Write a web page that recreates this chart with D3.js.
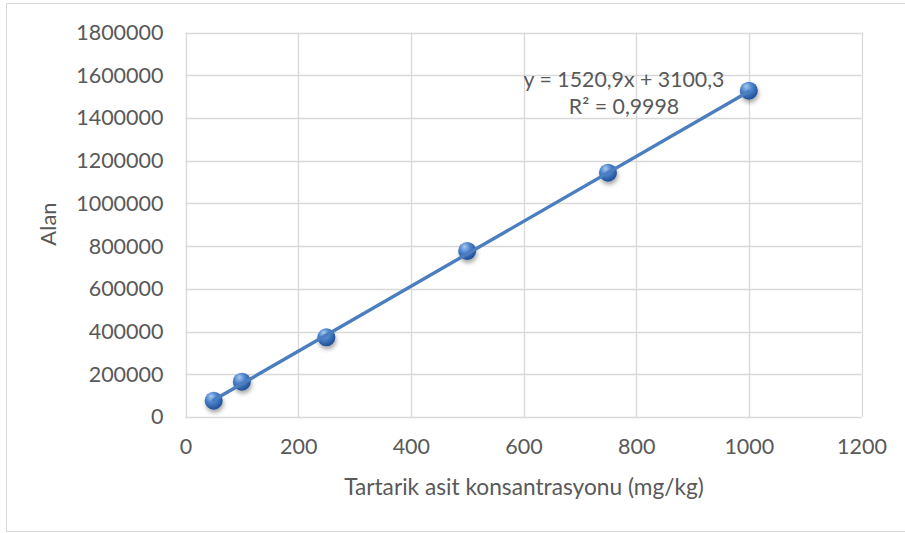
<!DOCTYPE html>
<html><head><meta charset="utf-8">
<script src="https://cdn.jsdelivr.net/npm/d3@7"></script>
<style>html,body{margin:0;padding:0;background:#fff;}svg{display:block;}</style>
</head><body>
<svg id="chart" width="905" height="533"></svg>
<script>
const concentrations = [50, 100, 250, 500, 750, 1000];
const areas = [76300, 165300, 373100, 777200, 1143700, 1527600];
const xTicks = [0, 200, 400, 600, 800, 1000, 1200];
const yTicks = [0, 200000, 400000, 600000, 800000, 1000000, 1200000, 1400000, 1600000, 1800000];
const trendSlope = 1520.9, trendIntercept = 3100.3;
const equationLines = ["y = 1520,9x + 3100,3", "R² = 0,9998"];
const xTitle = "Tartarik asit konsantrasyonu (mg/kg)";
const yTitle = "Alan";

const svg = d3.select("#chart");
const font = "Lato, 'Open Sans', sans-serif";
const textColor = "#595959";

svg.append("rect").attr("x",6.5).attr("y",3.5).attr("width",910).attr("height",528)
  .attr("fill","#fff").attr("stroke","#d9d9d9").attr("stroke-width",1);

const x = d3.scaleLinear().domain([0,1200]).range([185.5, 861.5]);
const y = d3.scaleLinear().domain([0,1800000]).range([417, 32.5]);

const defs = svg.append("defs");
const grad = defs.append("radialGradient").attr("id","ball").attr("cx","40%").attr("cy","35%").attr("r","65%").attr("fx","35%").attr("fy","25%");
grad.append("stop").attr("offset","0%").attr("stop-color","#a9c8ee");
grad.append("stop").attr("offset","45%").attr("stop-color","#4f86cf");
grad.append("stop").attr("offset","100%").attr("stop-color","#1f4f96");
const f = defs.append("filter").attr("id","shadow").attr("x","-50%").attr("y","-50%").attr("width","220%").attr("height","220%");
f.append("feDropShadow").attr("dx",1).attr("dy",3).attr("stdDeviation",2.2).attr("flood-color","#000").attr("flood-opacity",0.35);

// gridlines
const g = svg.append("g");
g.selectAll(".hg").data(yTicks).enter().append("line")
  .attr("x1",x(0)).attr("x2",x(1200)).attr("y1",d=>Math.round(y(d))+0.5).attr("y2",d=>Math.round(y(d))+0.5)
  .attr("stroke","#d9d9d9").attr("stroke-width",1.3);
g.selectAll(".vg").data(xTicks).enter().append("line")
  .attr("y1",y(0)).attr("y2",y(1800000)).attr("x1",d=>Math.round(x(d))+0.5).attr("x2",d=>Math.round(x(d))+0.5)
  .attr("stroke","#d9d9d9").attr("stroke-width",1.3);

// axes labels via d3 axes
const xAxis = svg.append("g").attr("transform",`translate(0,${y(0)})`)
  .call(d3.axisBottom(x).tickValues(xTicks).tickSize(0).tickPadding(22).tickFormat(d3.format("d")));
const yAxis = svg.append("g").attr("transform",`translate(${x(0)},0)`)
  .call(d3.axisLeft(y).tickValues(yTicks).tickSize(0).tickPadding(22).tickFormat(d3.format("d")));
[xAxis,yAxis].forEach(a=>{
  a.select(".domain").remove();
  a.selectAll("text").attr("font-family",font).attr("font-size",21.5).attr("fill",textColor);
});

// markers
svg.append("g").selectAll("circle").data(concentrations).enter().append("circle")
  .attr("cx",d=>x(d)).attr("cy",(d,i)=>y(areas[i])).attr("r",9)
  .attr("fill","url(#ball)").attr("filter","url(#shadow)");

// trendline
const x0 = concentrations[0], x1 = concentrations[concentrations.length-1];
svg.append("line")
  .attr("x1",x(x0)).attr("y1",y(trendSlope*x0+trendIntercept))
  .attr("x2",x(x1)).attr("y2",y(trendSlope*x1+trendIntercept))
  .attr("stroke","#4a7ebf").attr("stroke-width",3.4).attr("stroke-linecap","round");

// equation
svg.append("g").selectAll("text").data(equationLines).enter().append("text")
  .attr("x",624).attr("y",(d,i)=>87+i*27).attr("text-anchor","middle")
  .attr("font-family",font).attr("font-size",21.3).attr("fill",textColor).text(d=>d);

// titles
svg.append("text").attr("x",524).attr("y",495).attr("text-anchor","middle")
  .attr("font-family",font).attr("font-size",22.7).attr("fill",textColor).text(xTitle);
svg.append("text").attr("transform","translate(56,224) rotate(-90)").attr("text-anchor","middle")
  .attr("font-family",font).attr("font-size",22).attr("fill",textColor).text(yTitle);
</script>
</body></html>
